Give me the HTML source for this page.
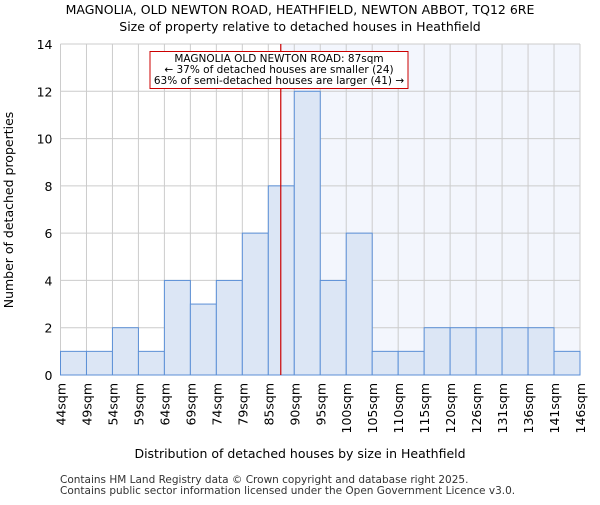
<!DOCTYPE html>
<html><head><meta charset="utf-8"><style>body{margin:0;background:#fff}svg{font-family:"DejaVu Sans","Liberation Sans",sans-serif}</style></head><body>
<svg id="c" width="600" height="500" xmlns="http://www.w3.org/2000/svg">
<text x="300" y="14" text-anchor="middle" font-size="12.5">MAGNOLIA, OLD NEWTON ROAD, HEATHFIELD, NEWTON ABBOT, TQ12 6RE</text>
<text x="300" y="31" text-anchor="middle" font-size="12.5">Size of property relative to detached houses in Heathfield</text>
<g id="plot"></g>
<text x="300" y="458" text-anchor="middle" font-size="12.5">Distribution of detached houses by size in Heathfield</text>
<text transform="translate(13,210) rotate(-90)" text-anchor="middle" font-size="12.5">Number of detached properties</text>
<text x="60" y="483" font-size="10.5" fill="#333">Contains HM Land Registry data © Crown copyright and database right 2025.</text>
<text x="60" y="494" font-size="10.5" fill="#333">Contains public sector information licensed under the Open Government Licence v3.0.</text>
</svg>
<script>
const categories=["44sqm","49sqm","54sqm","59sqm","64sqm","69sqm","74sqm","79sqm","85sqm","90sqm","95sqm","100sqm","105sqm","110sqm","115sqm","120sqm","126sqm","131sqm","136sqm","141sqm","146sqm"];
const counts=[1,1,2,1,4,3,4,6,8,12,4,6,1,1,2,2,2,2,2,1];
const yTicks=[0,2,4,6,8,10,12,14];
const markerBin=8.48;
const L=60.5,R=580,T=44,B=375,yMax=14;
const nb=counts.length,bw=(R-L)/nb;
const xs=i=>L+i*bw, ys=v=>B-v/yMax*(B-T);
const NS="http://www.w3.org/2000/svg",g=document.getElementById('plot');
function mk(t,a){const e=document.createElementNS(NS,t);for(const k in a)e.setAttribute(k,a[k]);g.appendChild(e);return e;}
const mx=xs(markerBin);
let e=mk('rect',{x:mx,y:T,width:R-mx,height:B-T,fill:'#f3f6fd'});


for(let i=0;i<=nb;i++){e=mk('line',{x1:xs(i),x2:xs(i),y1:T,y2:B,stroke:'#cccccc'});

}
yTicks.forEach(v=>{e=mk('line',{x1:L,x2:R,y1:ys(v),y2:ys(v),stroke:'#cccccc'});


e=mk('text',{x:L-8,y:ys(v)+5,'text-anchor':'end','font-size':'12.5'});e.textContent=v;

});
counts.forEach((v,i)=>{e=mk('rect',{x:xs(i),y:ys(v),width:bw,height:B-ys(v),fill:'#dce6f5',stroke:'#5b8fd6','stroke-width':1});

});
categories.forEach((c,i)=>{e=mk('text',{transform:`translate(${xs(i)+5},383) rotate(-90)`,'text-anchor':'end','font-size':'12.5'});e.textContent=c;

});
e=mk('line',{x1:mx,x2:mx,y1:T,y2:B,stroke:'#cc0000','stroke-width':1.2});


e=mk('rect',{x:150,y:51.5,width:258,height:37,fill:'#fff',stroke:'#cc0000'});


["MAGNOLIA OLD NEWTON ROAD: 87sqm","← 37% of detached houses are smaller (24)","63% of semi-detached houses are larger (41) →"].forEach((t,k)=>{e=mk('text',{x:279,y:62+k*11,'text-anchor':'middle','font-size':'10.5'});e.textContent=t;

});
</script>
</body></html>
